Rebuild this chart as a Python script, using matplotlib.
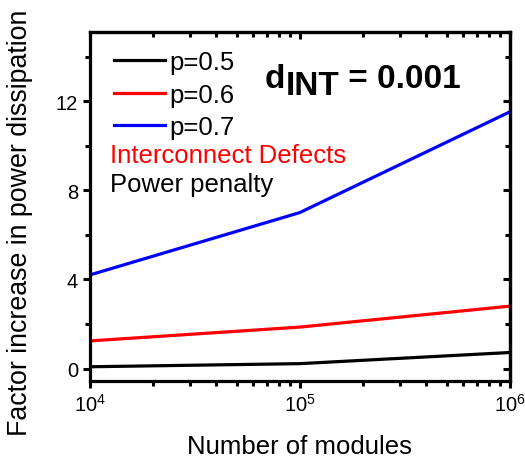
import matplotlib
matplotlib.use("Agg")
import matplotlib.pyplot as plt
from matplotlib.ticker import MultipleLocator, LogLocator, NullFormatter

plt.rcParams['font.family'] = ['Liberation Sans', 'DejaVu Sans']
plt.rcParams['mathtext.fontset'] = 'custom'
plt.rcParams['mathtext.rm'] = 'Liberation Sans'
plt.rcParams['mathtext.it'] = 'Liberation Sans'
plt.rcParams['mathtext.bf'] = 'Liberation Sans:bold'

# data
modules = [1e4, 1e5, 1e6]
p05 = [0.08, 0.22, 0.72]
p06 = [1.24, 1.86, 2.80]
p07 = [4.20, 7.00, 11.52]
labels = ['p=0.5', 'p=0.6', 'p=0.7']
colors = ['black', 'red', 'blue']

fig = plt.figure(figsize=(5.25, 4.6), dpi=100)
ax = fig.add_axes([0.171, 0.170, 0.800, 0.758])

for y, lab, c in zip([p05, p06, p07], labels, colors):
    ax.plot(modules, y, color=c, lw=2.3, label=lab)

ax.set_xscale('log')
ax.set_xlim(1e4, 1e6)
ax.set_ylim(-0.55, 15.1)
ax.yaxis.set_major_locator(MultipleLocator(4))
ax.yaxis.set_minor_locator(MultipleLocator(2))
ax.xaxis.set_minor_locator(LogLocator(base=10, subs=range(2, 10)))
ax.xaxis.set_minor_formatter(NullFormatter())

for s in ax.spines.values():
    s.set_linewidth(2.3)
ax.tick_params(which='both', direction='out', top=False, right=False,
               width=2.2, labelsize=14.5)
ax.tick_params(which='major', length=5)
ax.tick_params(which='minor', length=3.5)

# mirrored ticks pointing inward on top and right
topx = ax.secondary_xaxis('top')
topx.tick_params(which='both', direction='in', width=2.2, labeltop=False)
topx.tick_params(which='major', length=5)
topx.tick_params(which='minor', length=3.5)
topx.xaxis.set_minor_locator(LogLocator(base=10, subs=range(2, 10)))
topx.xaxis.set_minor_formatter(NullFormatter())
rightx = ax.secondary_yaxis('right')
rightx.tick_params(which='both', direction='in', width=2.2, labelright=False)
rightx.tick_params(which='major', length=5)
rightx.tick_params(which='minor', length=3.5)
rightx.yaxis.set_major_locator(MultipleLocator(4))
rightx.yaxis.set_minor_locator(MultipleLocator(2))
for s in list(topx.spines.values()) + list(rightx.spines.values()):
    s.set_linewidth(2.3)

ax.set_xlabel('Number of modules', fontsize=18.5, labelpad=14)
ax.set_ylabel('Factor increase in power dissipation', fontsize=19.3)
ax.yaxis.set_label_coords(-0.136, 0.456)

ax.legend(loc='upper left', bbox_to_anchor=(0.015, 1.0), frameon=False,
          fontsize=18.5, handlelength=2.0, handletextpad=0.15,
          labelspacing=0.33, borderaxespad=0.3)

ax.text(0.048, 0.647, 'Interconnect Defects', color='red', fontsize=18.5,
        transform=ax.transAxes, va='center')
ax.text(0.048, 0.564, 'Power penalty', color='black', fontsize=18.5,
        transform=ax.transAxes, va='center')

t1 = ax.text(0.417, 0.822, 'd', fontsize=24, fontweight='bold',
             transform=ax.transAxes, va='bottom')
t2 = ax.annotate('INT', xy=(1, 0), xycoords=t1, xytext=(0, -5),
                 textcoords='offset points', fontsize=24, fontweight='bold',
                 va='bottom')
ax.annotate(' = 0.001', xy=(1, 0), xycoords=t2, xytext=(0, 5),
            textcoords='offset points', fontsize=24, fontweight='bold',
            va='bottom')

fig.savefig('out.png', dpi=100)
